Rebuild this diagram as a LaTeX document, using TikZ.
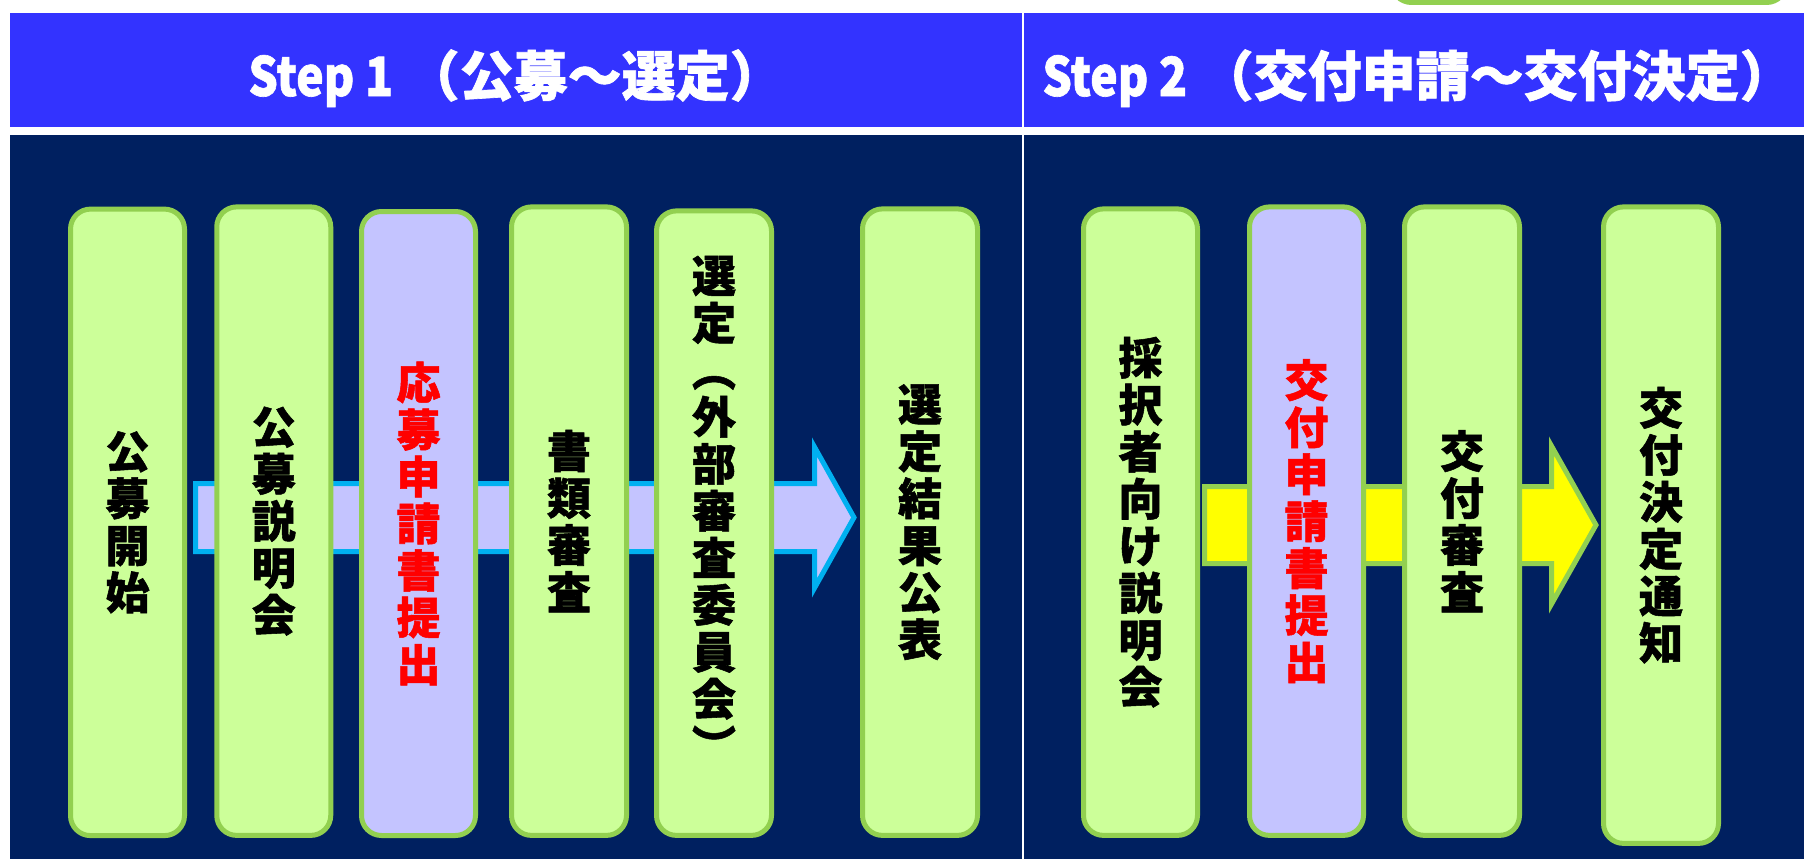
\documentclass[tikz,border=0pt]{standalone}
\usepackage{fontspec}
\newfontfamily\cjk{Noto Sans CJK JP}[BoldFeatures={FakeBold=1.2}]
\definecolor{hdrblue}{HTML}{3333FF}
\definecolor{navy}{HTML}{002060}
\definecolor{lgreen}{HTML}{CCFF99}
\definecolor{bgreen}{HTML}{92D050}
\definecolor{lav}{HTML}{C4C4FF}
\definecolor{acyan}{HTML}{00B0F0}
\definecolor{ayellow}{HTML}{FFFF00}
\definecolor{ared}{HTML}{FF0000}
\begin{document}
\begin{tikzpicture}[x=1pt,y=-1pt,
  stepbox/.style={draw=bgreen, line width=5pt, rounded corners=20pt, fill=lgreen,
    minimum width=114pt, inner sep=0pt},
  lavbox/.style={stepbox, fill=lav},
  vtext/.style={font=\cjk\bfseries\fontsize{44}{47}\selectfont, align=center, inner sep=0pt, text=black},
  redtext/.style={vtext, text=ared},
  hdr/.style={font=\cjk\bfseries\fontsize{54}{54}\selectfont, text=white, inner sep=0pt, anchor=base},
  blockarrow/.style={line width=5pt, line join=miter}]
\useasboundingbox (0,0) rectangle (1804,859);
\fill[white] (0,0) rectangle (1804,859);
% cut-off green box at top right
\draw[draw=bgreen, fill=lgreen, line width=5pt, rounded corners=20pt] (1391.5,-60) rectangle (1786.5,2.5);
% header band
\fill[hdrblue] (10,13) rectangle (1804,127);
% dark panel
\fill[navy] (10,135) rectangle (1804,859);
% divider
\coordinate (dtop) at (1023,13);
\coordinate (dbot) at (1023,859);
\draw[white, line width=2.5pt] (dtop) -- (dbot);
% header texts
\node[hdr] (h1) at (516,96) {\scalebox{0.86}[1]{Step 1} （公募～選定）};
\node[hdr] (h2) at (1418,96) {\scalebox{0.86}[1]{Step 2} （交付申請～交付決定）};
% block arrows
\draw[blockarrow, draw=acyan, fill=lav] (195.5,483.5) -- (814.5,483.5) -- (814.5,447) -- (854,517.5) -- (814.5,588) -- (814.5,551.5) -- (195.5,551.5) -- cycle;
\draw[blockarrow, draw=bgreen, fill=ayellow] (1204.5,486.5) -- (1551.5,486.5) -- (1551.5,446) -- (1596,525) -- (1551.5,604) -- (1551.5,563.5) -- (1204.5,563.5) -- cycle;
% boxes
\node[stepbox, minimum height=626.5pt] (b1) at (127.5,522.35) {};
\node[stepbox, minimum height=628.5pt] (b2) at (273.75,521.15) {};
\node[lavbox, minimum height=624pt] (b3) at (418.5,523.5) {};
\node[stepbox, minimum height=628.5pt, minimum width=115pt] (b4) at (569,521.15) {};
\node[stepbox, minimum height=624.5pt, minimum width=115pt] (b5) at (714,523.15) {};
\node[stepbox, minimum height=626.5pt, minimum width=115pt] (b6) at (920,522.15) {};
\node[stepbox, minimum height=626.5pt] (b7) at (1140.5,522.15) {};
\node[lavbox, minimum height=628.5pt] (b8) at (1306.5,521.15) {};
\node[stepbox, minimum height=628.5pt, minimum width=115pt] (b9) at (1462,521.15) {};
\node[stepbox, minimum height=636.5pt, minimum width=115pt] (b10) at (1661,525.15) {};
% box texts
\node[vtext] (t1) at (b1.center) {公\\募\\開\\始};
\node[vtext] (t2) at (b2.center) {公\\募\\説\\明\\会};
\node[redtext] (t3) at (b3.center) {応\\募\\申\\請\\書\\提\\出};
\node[vtext] (t4) at (b4.center) {書\\類\\審\\査};
\node[vtext, yshift=14pt] (t5) at (b5.center) {選\\定\\︵\\外\\部\\審\\査\\委\\員\\会\\︶};
\node[vtext] (t6) at (b6.center) {選\\定\\結\\果\\公\\表};
\node[vtext] (t7) at (b7.center) {採\\択\\者\\向\\け\\説\\明\\会};
\node[redtext] (t8) at (b8.center) {交\\付\\申\\請\\書\\提\\出};
\node[vtext] (t9) at (b9.center) {交\\付\\審\\査};
\node[vtext] (t10) at (b10.center) {交\\付\\決\\定\\通\\知};
\end{tikzpicture}
\end{document}
